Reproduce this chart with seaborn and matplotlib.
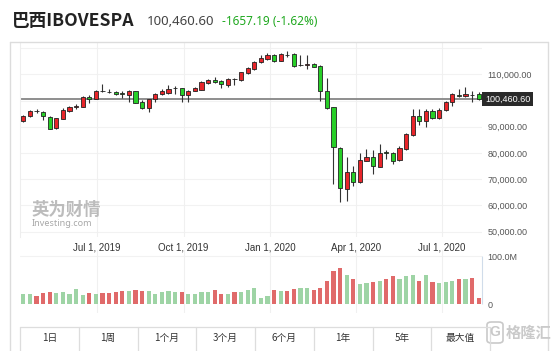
import matplotlib
matplotlib.use("Agg")
import matplotlib.pyplot as plt
import matplotlib.transforms as mtransforms
from matplotlib.lines import Line2D
from matplotlib.patches import FancyBboxPatch
import numpy as np
import pandas as pd
import seaborn as sns

# ---------------- data (weekly candles, Apr 2019 - Aug 2020) ----------------
week_start = "2019-04-14"
opens = [92210, 94120, 95950, 95520, 93870, 89430, 93110, 96150, 97600, 97670,
         101490, 100720, 103580, 103320, 103270, 102680, 102250, 103520, 99450, 97040,
         100600, 102380, 103010, 104620, 104670, 102120, 103770, 104160, 106700, 107970,
         107330, 105940, 108150, 107840, 110380, 111910, 114700, 115850, 117370, 115080,
         117420, 117880, 113380, 113640, 113940, 113180, 103650, 97420, 82040, 66420,
         72900, 68960, 77090, 78480, 74790, 80180, 79870, 77330, 81530, 86870,
         94240, 92330, 96140, 93220, 96400, 99450, 102250, 101870, 102170, 102500]
highs = [94625, 96270, 96660, 96020, 94120, 93490, 97300, 97930, 98560, 101740,
         102120, 104030, 106320, 104280, 103650, 103650, 104030, 103650, 100210, 100720,
         103010, 104280, 105810, 105430, 104800, 104030, 105300, 107330, 108350, 108980,
         107840, 108480, 108730, 111020, 112670, 115210, 117370, 118260, 117630, 118000,
         119020, 118000, 117370, 117370, 114450, 113430, 108480, 97670, 82290, 78610,
         75060, 79880, 81410, 81300, 83430, 81160, 80510, 82670, 87760, 96780,
         96780, 96780, 96650, 97020, 99960, 102750, 104410, 105040, 103770, 103270]
lows = [91830, 93870, 95140, 92590, 89040, 89170, 92850, 95520, 96660, 97420,
        99200, 100470, 103140, 103010, 102250, 100850, 99450, 98940, 96790, 95770,
        99450, 102000, 102500, 102500, 99450, 99450, 103520, 103900, 106190, 106570,
        104790, 105170, 106060, 107590, 110000, 111650, 114450, 115590, 114700, 114960,
        116730, 112920, 113180, 111910, 112670, 99830, 96910, 68190, 61460, 61590,
        67430, 68700, 76830, 71950, 74540, 77580, 75690, 77080, 81270, 86610,
        90680, 89780, 92840, 92970, 96020, 97930, 101490, 101490, 99580, 100210]
closes = [94240, 96020, 95850, 93990, 89300, 93230, 96400, 97420, 97720, 101490,
          100470, 103780, 103480, 103220, 102500, 102580, 103520, 99200, 97040, 100470,
          102630, 103520, 104540, 104720, 102000, 103650, 104920, 107080, 107840, 107080,
          106320, 108220, 108050, 110760, 112290, 114830, 116100, 117370, 114960, 117880,
          117320, 113180, 113480, 113740, 112920, 103650, 97290, 82170, 66540, 72770,
          69080, 77340, 78610, 74900, 80130, 80080, 77080, 81780, 87120, 94240,
          92330, 96140, 93220, 96400, 99580, 102500, 101870, 102370, 102070, 100460.6]
volumes_m = [21, 21, 16.1, 23.8, 25.2, 23.8, 25.2, 21, 30.8, 19.6,
             23.8, 20.3, 22.4, 22.4, 25.9, 27.3, 28, 29.4, 27.3, 27.3,
             20.3, 25.9, 28, 24.5, 24.5, 21.7, 21.7, 25.9, 25.9, 29.4,
             20.3, 20.3, 25.9, 25.9, 29.4, 32.9, 13.3, 16.8, 29.4, 27.3,
             27.3, 30.8, 33.6, 33.6, 28.7, 32.9, 48.3, 69.3, 75.6, 60.2,
             51.8, 42, 44.8, 46.9, 49, 53.2, 58.1, 53.2, 58.8, 61.6,
             49, 60.2, 46.9, 44.8, 46.2, 48.3, 51.8, 51.8, 54.6, 11.9]
last_price = 100460.60
x_tick_dates = ["2019-07-01", "2019-10-01", "2020-01-01", "2020-04-01", "2020-07-01"]
x_tick_labels = ["Jul 1, 2019", "Oct 1, 2019", "Jan 1, 2020", "Apr 1, 2020", "Jul 1, 2020"]
price_ticks = [50000, 60000, 70000, 80000, 90000, 110000]
grid_prices = [50000, 60000, 70000, 80000, 90000, 100000, 110000, 120000]
buttons = ["1日", "1周", "1个月", "3个月", "6个月", "1年", "5年", "最大值"]
title = "巴西IBOVESPA"
price_text = "100,460.60"
change_text = "-1657.19 (-1.62%)"

# ---------------- style ----------------
sns.set_style("white")
plt.rcParams["font.family"] = ["Liberation Sans", "Noto Sans CJK SC", "DejaVu Sans"]
CJK = ["Noto Sans CJK SC", "DejaVu Sans"]

W, H = 554, 351
fig = plt.figure(figsize=(W / 100, H / 100), dpi=100)
fig.patch.set_facecolor("white")

def fx(px):
    return px / W

def fy(py):
    return 1 - py / H

df = pd.DataFrame({"o": opens, "h": highs, "l": lows, "c": closes, "vol": volumes_m})
df["idx"] = np.arange(len(df))
df["up"] = np.where(df["c"] > df["o"], "up", "down")
t0 = pd.Timestamp(week_start)
tick_pos = [(pd.Timestamp(d) - t0).days / 7 for d in x_tick_dates]

XL = (-0.5, 69.5)

# ---------------- volume panel (drawn first, transparent) ----------------
axv = fig.add_axes([fx(20), fy(313), fx(462), 63 / H])
axv.patch.set_alpha(0)
sns.barplot(data=df, x="idx", y="vol", hue="up", palette={"up": "#9ed4a5", "down": "#e06a6a"},
            native_scale=True, dodge=False, width=0.62, saturation=1, legend=False,
            ax=axv, edgecolor="none", zorder=3)
axv.set_xlim(*XL)
axv.set_ylim(-18.9, 113.4)
for s in ["top", "right", "bottom", "left"]:
    axv.spines[s].set_visible(False)
axv.set_xlabel("")
axv.set_ylabel("")
axv.set_xticks([])
axv.axhline(100, color="#f2f2f2", lw=0.8, zorder=0)
for tp in tick_pos:
    axv.axvline(tp, color="#f0f0f0", lw=0.8, zorder=0)
axv.vlines(XL[1], 0, 100, color="#d0dcea", lw=0.8, clip_on=False)
axv.yaxis.tick_right()
axv.set_yticks([0, 100])
axv.set_yticklabels(["0", "100.0M"])
axv.tick_params(axis="y", length=0, pad=4, labelsize=6.5, labelcolor="#555555")

# ---------------- price panel ----------------
axp = fig.add_axes([fx(20), fy(237), fx(462), 195 / H])
axp.patch.set_alpha(0)
axp.set_xlim(*XL)
axp.set_ylim(47978, 122313)
for s in ["top", "right", "bottom"]:
    axp.spines[s].set_visible(False)
axp.spines["left"].set_color("#eeeeee")
for gp in grid_prices:
    axp.axhline(gp, color="#f2f2f2", lw=0.8, zorder=0)
for tp in tick_pos:
    axp.axvline(tp, color="#f0f0f0", lw=0.8, zorder=0)

axp.axhline(last_price, color="#8e8e8e", lw=1.4, zorder=1)

red_c, green_c = "#e8252a", "#27cf27"
axp.vlines(df["idx"], df["l"], df["h"], color="#333333", lw=0.8, zorder=2)
body_bottom = np.minimum(df["o"], df["c"])
body_h = np.maximum(np.abs(df["c"] - df["o"]), 150)
colors = [red_c if u == "up" else green_c for u in df["up"]]
axp.bar(df["idx"], body_h, bottom=body_bottom, width=0.62, color=colors,
        edgecolor="#222222", linewidth=0.6, zorder=3)

axp.yaxis.tick_right()
axp.set_yticks(price_ticks)
axp.set_yticklabels([f"{v:,.2f}" for v in price_ticks])
axp.tick_params(axis="y", length=0, pad=4, labelsize=6.5, labelcolor="#555555")
axp.set_xticks(tick_pos)
axp.set_xticklabels(x_tick_labels)
axp.tick_params(axis="x", length=0, pad=4, labelsize=7, labelcolor="#333333")

tr = mtransforms.blended_transform_factory(axp.transAxes, axp.transData)
axp.text(1.0 + 3 / 462, last_price, "100,460.60", transform=tr, ha="left", va="center",
         fontsize=6.5, color="white",
         bbox=dict(boxstyle="square,pad=0.28", fc="#2a2a2a", ec="none"))

# ---------------- frame & buttons ----------------
frame_c = "#dcdcdc"
fig.add_artist(Line2D([fx(10), fx(10)], [fy(42), fy(351)], color=frame_c, lw=1))
fig.add_artist(Line2D([fx(10), fx(548)], [fy(42), fy(42)], color=frame_c, lw=1))
fig.add_artist(Line2D([fx(548), fx(548)], [fy(42), fy(351)], color=frame_c, lw=1))

bw = 58.75
fig.add_artist(Line2D([fx(20), fx(20 + 8 * bw)], [fy(327), fy(327)], color="#dddddd", lw=0.9))
for k in range(9):
    xx = 20 + k * bw
    fig.add_artist(Line2D([fx(xx), fx(xx)], [fy(327), fy(351)], color="#dddddd", lw=0.9))
for k, b in enumerate(buttons):
    fig.text(fx(20 + (k + 0.5) * bw), fy(338), b, ha="center", va="center",
             fontsize=7, color="#333333", family=CJK)

# ---------------- titles ----------------
fig.text(fx(12), fy(21), title, ha="left", va="center", fontsize=12.7, fontweight="bold",
         color="#222222", family=CJK)
fig.text(fx(147), fy(21.5), price_text, ha="left", va="center", fontsize=9.5,
         fontweight="bold", color="#444444", family=["Noto Sans", "DejaVu Sans"])
fig.text(fx(222), fy(21.5), change_text, ha="left", va="center", fontsize=8.5,
         fontweight="bold", color="#1fa81f", family=["Noto Sans", "DejaVu Sans"])

# ---------------- watermarks ----------------
fig.text(fx(32), fy(210), "英为财情", ha="left", va="center", fontsize=12.5,
         fontweight="bold", color="#b5b5b5", family=CJK, alpha=0.9)
fig.text(fx(32), fy(224), "Investing.com", ha="left", va="center", fontsize=6.5,
         fontweight="bold", color="#a8a8a8", family=["Noto Sans", "DejaVu Sans"])

logo = FancyBboxPatch((fx(487), fy(343)), fx(16), 21 / H,
                      boxstyle="round,pad=0,rounding_size=0.008",
                      transform=fig.transFigure, fc="none", ec="#c9c9c9", lw=1.2)
fig.add_artist(logo)
fig.text(fx(495), fy(332.5), "G", ha="center", va="center", fontsize=10,
         fontweight="bold", color="#c9c9c9")
fig.text(fx(506), fy(333), "格隆汇", ha="left", va="center", fontsize=11,
         fontweight="bold", color="#cacaca", family=CJK)

fig.savefig("out.png", dpi=100, facecolor="white")
